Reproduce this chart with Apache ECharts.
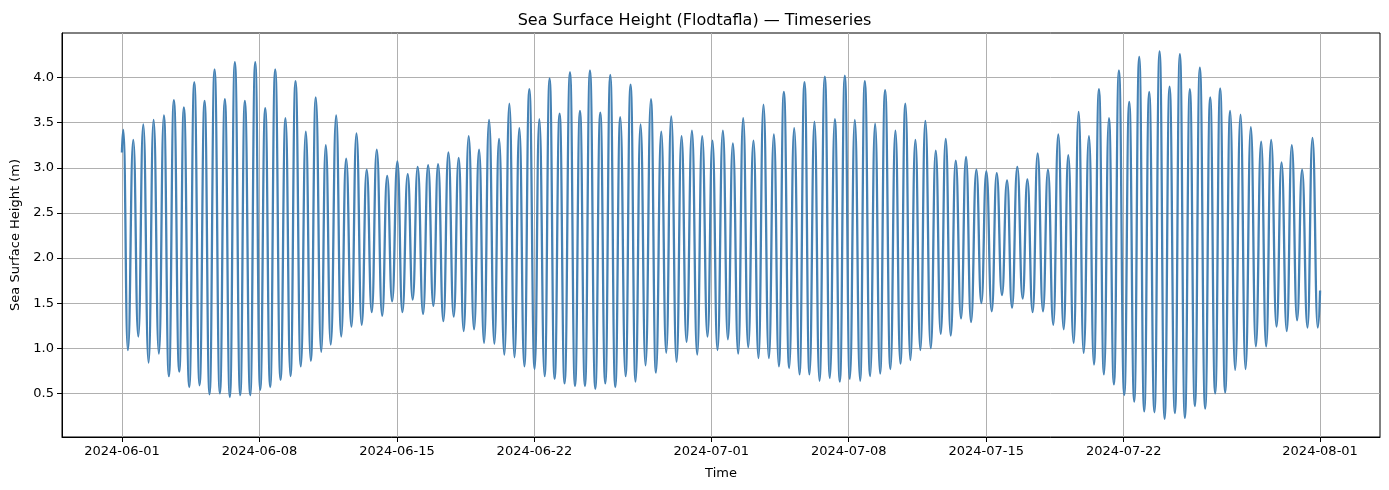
<html>
<head>
<meta charset="utf-8">
<script src="https://cdn.jsdelivr.net/npm/echarts@6/dist/echarts.min.js"></script>
</head>
<body style="margin:0">
<div id="chartmain" style="width:1389px;height:490px"></div>
<script type="text/javascript">
    // hours after 2024-06-01 00:00 of each turning point (high / low water)
    var hours = [
        0, 1.7, 7.3, 13.9, 20.0, 26.1, 32.6, 38.7, 45.2, 51.3, 57.4, 63.5, 70.1, 75.7, 82.3, 88.4, 94.9, 101.0, 107.1, 113.2,
        119.7, 125.8, 131.9, 138.0, 144.6, 150.2, 156.8, 162.9, 169.0, 175.1, 181.2, 187.3, 193.8, 199.9, 206.0, 212.1, 218.6, 224.7, 230.8, 236.9,
        243.5, 249.1, 255.2, 261.8, 267.9, 274.0, 280.5, 286.6, 293.0, 299.1, 305.3, 311.4, 318.0, 324.1, 330.2, 336.6, 342.7, 349.2, 355.3, 361.4,
        368.0, 374.1, 380.6, 386.3, 392.8, 398.9, 405.4, 411.5, 417.6, 423.7, 430.3, 436.4, 442.5, 448.6, 455.1, 460.8, 467.3, 473.4, 479.7, 485.6,
        491.7, 497.8, 504.3, 510.0, 516.5, 522.6, 528.7, 534.8, 540.9, 547.5, 553.6, 559.7, 565.8, 571.9, 578.4, 584.5, 590.6, 596.7, 602.8, 608.9,
        615.4, 621.5, 627.6, 633.7, 639.8, 646.4, 652.5, 659.0, 665.1, 671.2, 677.7, 683.8, 689.9, 696.5, 702.9, 709.0, 715.5, 721.6, 727.7, 734.3,
        740.4, 746.5, 753.0, 759.1, 765.2, 771.7, 777.8, 783.9, 790.5, 796.6, 802.7, 808.8, 815.3, 821.4, 827.9, 834.0, 840.1, 846.2, 852.3, 858.9,
        865.0, 871.1, 877.2, 883.3, 889.4, 895.5, 902.0, 907.7, 914.2, 920.3, 926.4, 932.5, 939.0, 945.1, 951.2, 957.3, 963.4, 969.5, 975.6, 981.7,
        988.3, 994.4, 1000.5, 1006.6, 1012.7, 1018.8, 1025.3, 1031.4, 1037.5, 1044.0, 1050.1, 1056.2, 1062.8, 1068.9, 1075.3, 1081.5, 1087.6, 1094.0, 1100.6, 1106.3,
        1112.8, 1118.9, 1125.4, 1131.5, 1138.0, 1144.1, 1150.7, 1156.3, 1162.9, 1169.0, 1175.1, 1181.6, 1187.7, 1193.8, 1199.9, 1206.0, 1212.1, 1218.2, 1224.7, 1230.8,
        1236.9, 1243.0, 1249.1, 1255.2, 1261.6, 1267.9, 1274.0, 1280.1, 1286.6, 1292.7, 1298.8, 1304.9, 1311.0, 1317.1, 1323.6, 1329.7, 1335.8, 1341.9, 1348.0, 1354.1,
        1360.2, 1366.8, 1372.9, 1379.4, 1385.5, 1392.0, 1398.1, 1404.2, 1410.8, 1416.9, 1423.3, 1429.4, 1435.9, 1442.0, 1448.6, 1454.7, 1461.2, 1464.0
    ];
    // sea surface height (m) at those times
    var ssh = [
        3.17, 3.42, 0.98, 3.31, 1.13, 3.48, 0.84, 3.53, 0.94, 3.58, 0.69, 3.75, 0.74, 3.67, 0.57, 3.95, 0.59, 3.74, 0.49, 4.09,
        0.50, 3.76, 0.46, 4.17, 0.48, 3.74, 0.48, 4.17, 0.54, 3.66, 0.57, 4.09, 0.65, 3.55, 0.69, 3.96, 0.80, 3.40, 0.86, 3.78,
        0.96, 3.25, 1.04, 3.58, 1.13, 3.10, 1.24, 3.38, 1.26, 2.98, 1.40, 3.20, 1.36, 2.91, 1.52, 3.07, 1.40, 2.93, 1.54, 3.01,
        1.38, 3.03, 1.47, 3.04, 1.30, 3.17, 1.35, 3.11, 1.19, 3.35, 1.21, 3.20, 1.06, 3.53, 1.05, 3.32, 0.93, 3.71, 0.90, 3.44,
        0.80, 3.87, 0.77, 3.54, 0.69, 3.99, 0.66, 3.60, 0.61, 4.06, 0.58, 3.63, 0.58, 4.08, 0.55, 3.61, 0.61, 4.03, 0.57, 3.56,
        0.69, 3.92, 0.63, 3.48, 0.81, 3.76, 0.73, 3.40, 0.95, 3.57, 0.85, 3.35, 1.07, 3.41, 0.93, 3.35, 1.13, 3.30, 0.98, 3.41,
        1.10, 3.27, 0.94, 3.55, 1.01, 3.30, 0.89, 3.70, 0.89, 3.37, 0.80, 3.84, 0.78, 3.44, 0.71, 3.95, 0.71, 3.51, 0.64, 4.01,
        0.67, 3.54, 0.63, 4.02, 0.66, 3.53, 0.64, 3.96, 0.69, 3.49, 0.72, 3.86, 0.77, 3.41, 0.83, 3.71, 0.87, 3.31, 0.98, 3.52,
        1.00, 3.19, 1.16, 3.32, 1.14, 3.08, 1.33, 3.12, 1.29, 2.98, 1.50, 2.96, 1.41, 2.94, 1.59, 2.86, 1.45, 3.01, 1.55, 2.87,
        1.40, 3.16, 1.41, 2.98, 1.26, 3.37, 1.21, 3.14, 1.06, 3.62, 0.95, 3.35, 0.82, 3.87, 0.71, 3.55, 0.60, 4.08, 0.48, 3.73,
        0.41, 4.23, 0.30, 3.84, 0.29, 4.29, 0.22, 3.90, 0.28, 4.26, 0.23, 3.87, 0.36, 4.11, 0.33, 3.78, 0.50, 3.88, 0.51, 3.63,
        0.76, 3.59, 0.77, 3.45, 1.02, 3.29, 1.02, 3.31, 1.24, 3.06, 1.19, 3.25, 1.31, 2.98, 1.23, 3.33, 1.23, 1.64
    ];
    var xTickDates = ['2024-06-01', '2024-06-08', '2024-06-15', '2024-06-22', '2024-07-01', '2024-07-08', '2024-07-15', '2024-07-22', '2024-08-01'];
    var yTicks = [0.5, 1.0, 1.5, 2.0, 2.5, 3.0, 3.5, 4.0];

    var HOUR = 3600 * 1000;
    var t0 = Date.UTC(2024, 5, 1);
    var t1 = Date.UTC(2024, 7, 1);
    function toMs(s) {
        var p = s.split('-');
        return Date.UTC(+p[0], +p[1] - 1, +p[2]);
    }
    function pad(n) { return n < 10 ? '0' + n : '' + n; }
    function fmtDate(v) {
        var d = new Date(v);
        return d.getUTCFullYear() + '-' + pad(d.getUTCMonth() + 1) + '-' + pad(d.getUTCDate());
    }

    var seriesData = [];
    for (var i = 0; i < hours.length; i++) {
        seriesData.push([t0 + hours[i] * HOUR, ssh[i]]);
    }
    var xTickMs = xTickDates.map(toMs);

    // matplotlib-like 5% margins
    var span = t1 - t0;
    var dataMin = Math.min.apply(null, ssh), dataMax = Math.max.apply(null, ssh);
    var yPad = (dataMax - dataMin) * 0.05;

    var font = 'DejaVu Sans';
    var option = {
        animation: false,
        title: {
            text: 'Sea Surface Height (Flodtafla) — Timeseries',
            left: 'center',
            top: 8,
            textStyle: { fontFamily: font, fontSize: 16, fontWeight: 'normal', color: '#000' }
        },
        grid: {
            left: 62, right: 9, top: 33, bottom: 53,
            show: true, borderColor: '#000', borderWidth: 1, backgroundColor: '#fff'
        },
        xAxis: {
            type: 'value',
            min: t0 - span * 0.05,
            max: t1 + span * 0.05,
            name: 'Time',
            nameLocation: 'middle',
            nameGap: 30,
            nameTextStyle: { fontFamily: font, fontSize: 13, color: '#000' },
            axisLine: { show: true, onZero: false, lineStyle: { color: '#000' } },
            axisTick: { show: true, length: 5, customValues: xTickMs, lineStyle: { color: '#000' } },
            axisLabel: {
                customValues: xTickMs, margin: 8,
                fontFamily: font, fontSize: 13, color: '#000',
                formatter: function (v) { return fmtDate(v); }
            },
            splitLine: { show: true, lineStyle: { color: '#b0b0b0', width: 1 } }
        },
        yAxis: {
            type: 'value',
            min: dataMin - yPad,
            max: dataMax + yPad,
            name: 'Sea Surface Height (m)',
            nameLocation: 'middle',
            nameGap: 40,
            nameTextStyle: { fontFamily: font, fontSize: 13, color: '#000' },
            axisLine: { show: true, lineStyle: { color: '#000' } },
            axisTick: { show: true, length: 5, customValues: yTicks, lineStyle: { color: '#000' } },
            axisLabel: {
                customValues: yTicks, margin: 8,
                fontFamily: font, fontSize: 13, color: '#000',
                formatter: function (v) { return v.toFixed(1); }
            },
            splitLine: { show: true, lineStyle: { color: '#b0b0b0', width: 1 } }
        },
        series: [{
            type: 'line',
            data: seriesData,
            showSymbol: false,
            smooth: 0.5,
            smoothMonotone: 'x',
            lineStyle: { color: '#4682b4', width: 2.3 },
            itemStyle: { color: '#4682b4' }
        }]
    };
    var myChart = echarts.init(document.getElementById('chartmain'));
    myChart.setOption(option);
</script>
</body>
</html>
